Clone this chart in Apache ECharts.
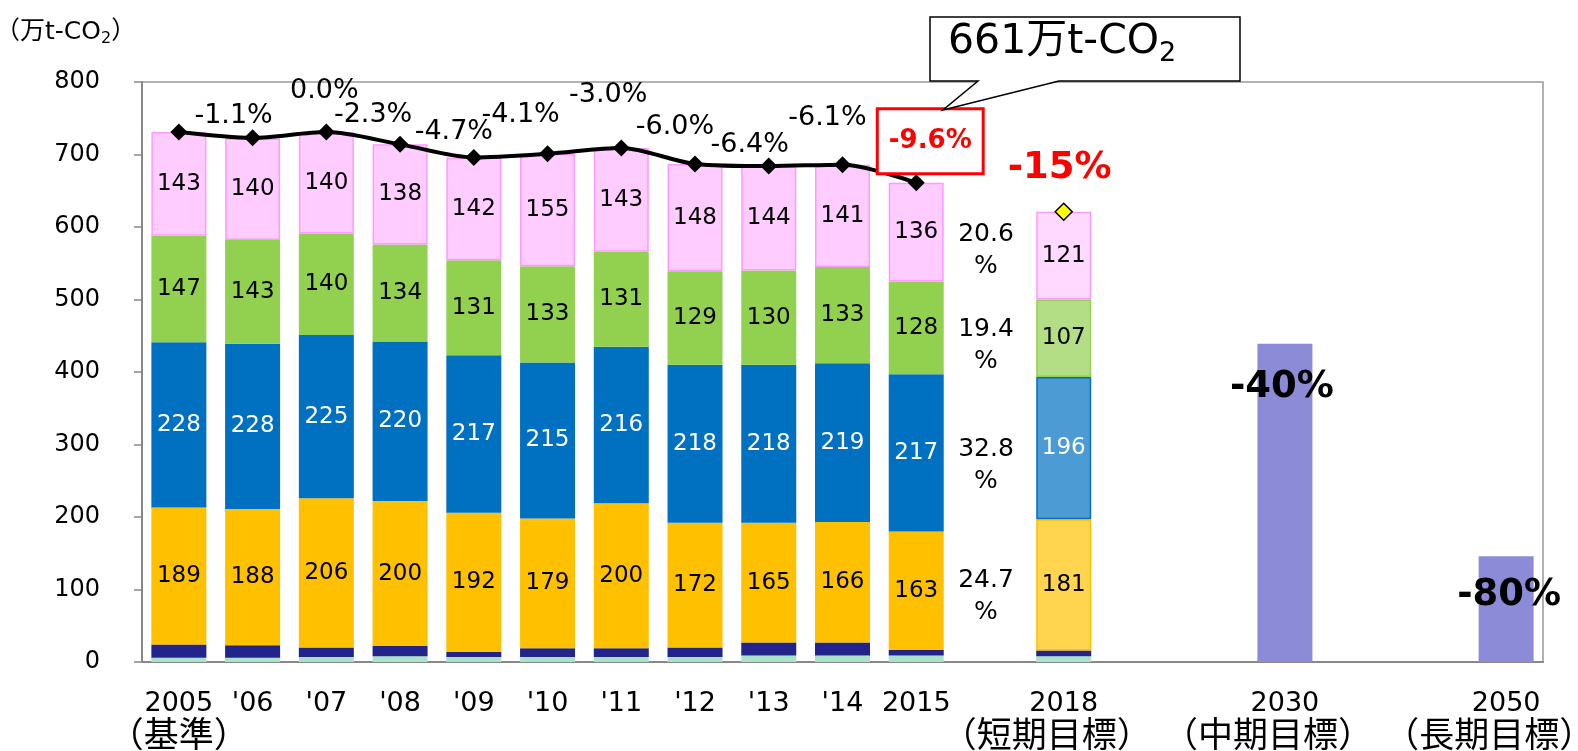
<!DOCTYPE html>
<html>
<head>
<meta charset="utf-8">
<script src="https://cdn.jsdelivr.net/npm/echarts@6/dist/echarts.min.js"></script>
<style>
  html, body { margin: 0; padding: 0; background: #fff; }
  #chart { width: 1578px; height: 751px; }
</style>
</head>
<body>
<div id="chart"></div>
<script>
const categories = ["2005\n（基準）", "'06", "'07", "'08", "'09", "'10", "'11", "'12", "'13", "'14", "2015",
  "", "2018\n（短期目標）", "", "", "2030\n（中期目標）", "", "", "2050\n（長期目標）"]

// stacked layers, bottom to top (2005 .. 2015)
const layer1 = [6, 6, 7, 8, 7, 7, 7, 7, 9, 9, 9]
const layer2 = [18, 17, 13, 14, 7, 12, 12, 13, 18, 18, 8]
const layer3 = [189, 188, 206, 200, 192, 179, 200, 172, 165, 166, 163]
const layer4 = [228, 228, 225, 220, 217, 215, 216, 218, 218, 219, 217]
const layer5 = [147, 143, 140, 134, 131, 133, 131, 129, 130, 133, 128]
const layer6 = [143, 140, 140, 138, 142, 155, 143, 148, 144, 141, 136]

// 2018 short-term target, same layers
const target2018 = [8, 8, 181, 196, 107, 121]
const share2018 = ['', '', '24.7', '32.8', '19.4', '20.6']
const total2018 = 621
const change2018 = '-15%'

// totals line and change vs 2005
const totals = [731, 723, 731, 714, 696, 701, 709, 687, 684, 686, 661]
const changes = ['', '-1.1%', '0.0%', '-2.3%', '-4.7%', '-4.1%', '-3.0%', '-6.0%', '-6.4%', '-6.1%', '-9.6%']

// mid / long term targets
const target2030 = 439
const target2050 = 146
const targetLabels = ['-40%', '-80%']

const FONT = '"DejaVu Sans", "Noto Sans CJK JP", sans-serif'
const N = categories.length
const SHARE_IDX = 11, T2018 = 12, T2030 = 15, T2050 = 18

// label nudges (styling only)
const changeOffsets = [[0, 0], [-19, 5], [-2, -14], [-27, -2], [-20, 2], [-27, -12], [-13, -26], [-20, -10], [-19, 6], [-15, -20], [14, -1]]
const shareOffsets = [[0, 0], [0, 0], [-4, 12], [-4, 17], [-4, 7], [-4, -5]]

function layerSeries(idx, vals, color, light, border, lightBorder, labelColor) {
  const data = new Array(N).fill(null)
  vals.forEach((v, k) => { data[k] = v })
  data[SHARE_IDX] = {
    value: target2018[idx],
    itemStyle: { color: 'transparent', borderWidth: 0 },
    label: share2018[idx]
      ? { show: true, formatter: share2018[idx] + '\n%', color: '#000', fontSize: 25, lineHeight: 32, offset: shareOffsets[idx] }
      : { show: false }
  }
  data[T2018] = {
    value: target2018[idx],
    itemStyle: { color: light, borderColor: lightBorder, borderWidth: lightBorder ? 1.5 : 0 }
  }
  return {
    type: 'bar',
    stack: 'total',
    barWidth: 55,
    data: data,
    itemStyle: { color: color, borderColor: border, borderWidth: border ? 1.5 : 0 },
    label: { show: labelColor != null, color: labelColor, fontSize: 23, fontFamily: FONT }
  }
}

const lineData = new Array(N).fill(null)
totals.forEach((v, k) => {
  const item = { value: v, label: { show: !!changes[k], formatter: changes[k], offset: changeOffsets[k] } }
  if (k === totals.length - 1) {
    item.label = {
      show: true, formatter: changes[k], offset: changeOffsets[k], distance: 1,
      color: '#FF0000', fontWeight: 'bold', fontSize: 26, lineHeight: 34,
      borderColor: '#FF0000', borderWidth: 3, padding: [14, 10], backgroundColor: '#fff'
    }
  }
  lineData[k] = item
})

const goalPoint = new Array(N).fill(null)
goalPoint[T2018] = {
  value: total2018,
  label: { show: true, formatter: change2018, color: '#FF0000', fontWeight: 'bold', fontSize: 37, offset: [-4, -11] }
}

const targetData = new Array(N).fill(null)
targetData[T2030] = { value: target2030, label: { show: true, formatter: targetLabels[0], offset: [-3, 20] } }
targetData[T2050] = { value: target2050, label: { show: true, formatter: targetLabels[1], offset: [3, 16] } }

var myChart = echarts.init(document.getElementById('chart'))
var option = {
  animation: false,
  textStyle: { fontFamily: FONT },
  title: {
    text: '（万t-CO{s|2}）',
    left: -10,
    top: 12,
    textStyle: {
      fontSize: 25, fontWeight: 'normal', color: '#000', fontFamily: FONT,
      rich: { s: { fontSize: 16, verticalAlign: 'bottom', padding: [14, 0, 0, 0], fontFamily: FONT } }
    }
  },
  grid: {
    left: 142, right: 35, top: 82, bottom: 89,
    outerBoundsMode: 'none',
    show: true, borderColor: '#999', borderWidth: 1.5
  },
  xAxis: {
    type: 'category',
    data: categories,
    axisLine: { lineStyle: { color: '#888', width: 2 } },
    axisTick: { length: 10, lineStyle: { color: '#888', width: 2 } },
    axisLabel: {
      interval: 0, color: '#000', margin: 27, fontFamily: FONT,
      formatter: function (v) {
        const parts = v.split('\n')
        if (parts.length < 2) return '{a|' + v + '}'
        const style = parts[1].indexOf('目標') >= 0 ? 'c' : 'b'
        return '{a|' + parts[0] + '}\n{' + style + '|' + parts[1] + '}'
      },
      rich: {
        a: { fontSize: 27, lineHeight: 30, fontFamily: FONT, color: '#000' },
        b: { fontSize: 35, lineHeight: 38, fontFamily: FONT, color: '#000' },
        c: { fontSize: 35, lineHeight: 38, fontFamily: FONT, color: '#000', padding: [0, 34, 0, 0] }
      }
    }
  },
  yAxis: {
    type: 'value',
    min: 0,
    max: 800,
    interval: 100,
    splitLine: { show: false },
    axisLine: { show: true, lineStyle: { color: '#888', width: 2 } },
    axisTick: { show: true, length: 8, lineStyle: { color: '#888', width: 1.5 } },
    axisLabel: { color: '#000', fontSize: 24, margin: 42, fontFamily: FONT }
  },
  graphic: [
    {
      type: 'polygon',
      shape: { points: [[930, 17], [1240, 17], [1240, 81], [1059, 81], [943, 110], [978, 81], [930, 81]] },
      style: { fill: '#fff', stroke: '#000', lineWidth: 1.5 },
      z: 20
    },
    {
      type: 'text',
      left: 948,
      top: 22,
      z: 21,
      style: {
        text: '661万t-CO{s|2}',
        fontSize: 41,
        fontFamily: FONT,
        fill: '#000',
        rich: { s: { fontSize: 27, verticalAlign: 'bottom', padding: [22, 0, 0, 0], fontFamily: FONT } }
      }
    }
  ],
  series: [
    layerSeries(0, layer1, '#A8E2CB', '#A8E2CB', null, null, null),
    layerSeries(1, layer2, '#22238B', '#22238B', null, null, null),
    layerSeries(2, layer3, '#FFC000', '#FFD44F', null, '#FFC000', '#000'),
    layerSeries(3, layer4, '#0070C0', '#4C9BD5', null, '#0070C0', '#fff'),
    layerSeries(4, layer5, '#92D050', '#B3DE86', null, '#92D050', '#000'),
    layerSeries(5, layer6, '#FFCCFF', '#FFD9FF', '#FF99FF', '#FF99FF', '#000'),
    {
      type: 'bar',
      stack: 'total',
      barWidth: 55,
      data: targetData,
      itemStyle: { color: '#8B8BD8' },
      label: { position: 'insideTop', color: '#000', fontWeight: 'bold', fontSize: 37, fontFamily: FONT }
    },
    {
      type: 'line',
      data: lineData,
      smooth: 0.3,
      symbol: 'diamond',
      symbolSize: 17,
      z: 10,
      lineStyle: { color: '#000', width: 4 },
      itemStyle: { color: '#000' },
      label: { position: 'top', color: '#000', fontSize: 27, fontFamily: FONT }
    },
    {
      type: 'line',
      data: goalPoint,
      symbol: 'diamond',
      symbolSize: 17,
      z: 10,
      lineStyle: { width: 0 },
      itemStyle: { color: '#FFFF00', borderColor: '#000', borderWidth: 1.5 },
      label: { position: 'top', fontFamily: FONT }
    }
  ]
}
myChart.setOption(option)
</script>
</body>
</html>
